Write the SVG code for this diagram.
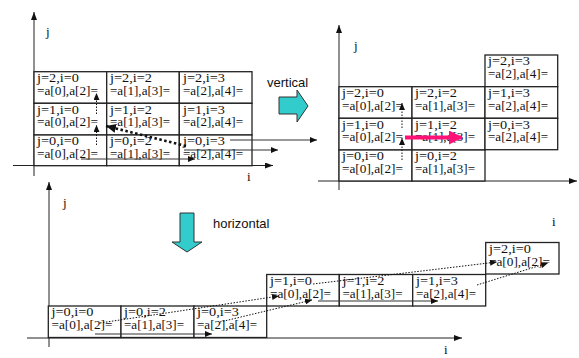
<svg xmlns="http://www.w3.org/2000/svg" width="579" height="358" viewBox="0 0 579 358">
<style>
.cell rect{fill:#fff;stroke:#222;stroke-width:1.3}
.cell text,.lbl{font-family:"Liberation Serif","Times New Roman",serif;font-size:11.5px;fill:#111}
.lbl{font-size:13px}
.axis{stroke:#222;stroke-width:1;fill:none}
.sol{stroke:#333;stroke-width:1;fill:none}
.dot{stroke:#111;stroke-width:1;stroke-dasharray:1.5,1.5;fill:none}
.thick{stroke:#111;stroke-width:2.6;stroke-dasharray:2.5,2.5;fill:none}
.pink{stroke:#ff1177;stroke-width:4;fill:none}
.sans{font-family:"Liberation Sans",Arial,sans-serif;font-size:13px;fill:#111}
.teal{fill:#33cccc;stroke:#333;stroke-width:1}
</style>
<defs>
<marker id="ah" viewBox="0 0 8 6" refX="8" refY="3" markerWidth="8" markerHeight="6" markerUnits="userSpaceOnUse" orient="auto"><path d="M0,0 L8,3 L0,6 z" fill="#111"/></marker>
<marker id="ahs" viewBox="0 0 7 6" refX="7" refY="3" markerWidth="7" markerHeight="6" markerUnits="userSpaceOnUse" orient="auto"><path d="M0,0 L7,3 L0,6 z" fill="#111"/></marker>
<marker id="ahb" viewBox="0 0 10 9" refX="10" refY="4.5" markerWidth="10" markerHeight="9" markerUnits="userSpaceOnUse" orient="auto"><path d="M0,0 L10,4.5 L0,9 z" fill="#111"/></marker>
<marker id="ahp" viewBox="0 0 14 14" refX="13" refY="7" markerWidth="14" markerHeight="14" markerUnits="userSpaceOnUse" orient="auto"><path d="M0,0 L14,7 L0,14 z" fill="#ff1177"/></marker>
</defs>

<!-- axes -->
<g id="axes">
<line class="axis" x1="34" y1="176" x2="34" y2="12" marker-end="url(#ah)"/>
<line class="axis" x1="13" y1="165.5" x2="273" y2="165.5" marker-end="url(#ah)"/>
<line class="axis" x1="339" y1="190" x2="339" y2="25" marker-end="url(#ah)"/>
<line class="axis" x1="318" y1="181" x2="577" y2="181" marker-end="url(#ah)"/>
<line class="axis" x1="49" y1="347" x2="49" y2="182" marker-end="url(#ah)"/>
<line class="axis" x1="27" y1="338" x2="462" y2="338" marker-end="url(#ah)"/>
<text class="lbl" x="46" y="36">j</text>
<text class="lbl" x="247" y="181">i</text>
<text class="lbl" x="354" y="50">j</text>
<text class="lbl" x="552" y="226">i</text>
<text class="lbl" x="63" y="207">j</text>
<text class="lbl" x="444" y="354">i</text>
</g>

<!-- top-left grid -->
<g id="tl-j2i0" class="cell"><rect x="34" y="71.7" width="72.7" height="31.6"/><text x="37" y="82" textLength="42" lengthAdjust="spacingAndGlyphs">j=2,i=0</text><text x="37" y="94.8" textLength="61" lengthAdjust="spacingAndGlyphs">=a[0],a[2]=</text></g>
<g id="tl-j2i2" class="cell"><rect x="106.7" y="71.7" width="72.6" height="31.6"/><text x="110" y="82" textLength="42" lengthAdjust="spacingAndGlyphs">j=2,i=2</text><text x="110" y="94.8" textLength="60" lengthAdjust="spacingAndGlyphs">=a[1],a[3]=</text></g>
<g id="tl-j2i3" class="cell"><rect x="179.3" y="71.7" width="72.7" height="31.6"/><text x="183" y="82" textLength="42" lengthAdjust="spacingAndGlyphs">j=2,i=3</text><text x="183" y="94.8" textLength="60" lengthAdjust="spacingAndGlyphs">=a[2],a[4]=</text></g>
<g id="tl-j1i0" class="cell"><rect x="34" y="103.3" width="72.7" height="31.7"/><text x="37" y="113.6" textLength="42" lengthAdjust="spacingAndGlyphs">j=1,i=0</text><text x="37" y="126.4" textLength="61" lengthAdjust="spacingAndGlyphs">=a[0],a[2]=</text></g>
<g id="tl-j1i2" class="cell"><rect x="106.7" y="103.3" width="72.6" height="31.7"/><text x="110" y="113.6" textLength="42" lengthAdjust="spacingAndGlyphs">j=1,i=2</text><text x="110" y="126.4" textLength="60" lengthAdjust="spacingAndGlyphs">=a[1],a[3]=</text></g>
<g id="tl-j1i3" class="cell"><rect x="179.3" y="103.3" width="72.7" height="31.7"/><text x="183" y="113.6" textLength="42" lengthAdjust="spacingAndGlyphs">j=1,i=3</text><text x="183" y="126.4" textLength="60" lengthAdjust="spacingAndGlyphs">=a[2],a[4]=</text></g>
<g id="tl-j0i0" class="cell"><rect x="34" y="135" width="72.7" height="30.7"/><text x="37" y="145.3" textLength="42" lengthAdjust="spacingAndGlyphs">j=0,i=0</text><text x="37" y="158.1" textLength="61" lengthAdjust="spacingAndGlyphs">=a[0],a[2]=</text></g>
<g id="tl-j0i2" class="cell"><rect x="106.7" y="135" width="72.6" height="30.7"/><text x="110" y="145.3" textLength="42" lengthAdjust="spacingAndGlyphs">j=0,i=2</text><text x="110" y="158.1" textLength="60" lengthAdjust="spacingAndGlyphs">=a[1],a[3]=</text></g>
<g id="tl-j0i3" class="cell"><rect x="179.3" y="135" width="72.7" height="30.7"/><text x="183" y="145.3" textLength="42" lengthAdjust="spacingAndGlyphs">j=0,i=3</text><text x="183" y="158.1" textLength="60" lengthAdjust="spacingAndGlyphs">=a[2],a[4]=</text></g>

<!-- top-right grid -->
<g id="tr-j2i0" class="cell"><rect x="339" y="86.7" width="73" height="31.6"/><text x="342" y="97" textLength="42" lengthAdjust="spacingAndGlyphs">j=2,i=0</text><text x="342" y="109.8" textLength="61" lengthAdjust="spacingAndGlyphs">=a[0],a[2]=</text></g>
<g id="tr-j2i2" class="cell"><rect x="412" y="86.7" width="73" height="31.6"/><text x="415" y="97" textLength="42" lengthAdjust="spacingAndGlyphs">j=2,i=2</text><text x="415" y="109.8" textLength="60" lengthAdjust="spacingAndGlyphs">=a[1],a[3]=</text></g>
<g id="tr-j2i3" class="cell"><rect x="485" y="55" width="72.7" height="31.7"/><text x="488" y="65.3" textLength="42" lengthAdjust="spacingAndGlyphs">j=2,i=3</text><text x="488" y="78.1" textLength="60" lengthAdjust="spacingAndGlyphs">=a[2],a[4]=</text></g>
<g id="tr-j1i0" class="cell"><rect x="339" y="118.3" width="73" height="31.7"/><text x="342" y="128.6" textLength="42" lengthAdjust="spacingAndGlyphs">j=1,i=0</text><text x="342" y="141.4" textLength="61" lengthAdjust="spacingAndGlyphs">=a[0],a[2]=</text></g>
<g id="tr-j1i2" class="cell"><rect x="412" y="118.3" width="73" height="31.7"/><text x="415" y="128.6" textLength="42" lengthAdjust="spacingAndGlyphs">j=1,i=2</text><text x="415" y="141.4" textLength="60" lengthAdjust="spacingAndGlyphs">=a[1],a[3]=</text></g>
<g id="tr-j1i3" class="cell"><rect x="485" y="86.7" width="72.7" height="31.6"/><text x="488" y="97" textLength="42" lengthAdjust="spacingAndGlyphs">j=1,i=3</text><text x="488" y="109.8" textLength="60" lengthAdjust="spacingAndGlyphs">=a[2],a[4]=</text></g>
<g id="tr-j0i0" class="cell"><rect x="339" y="150" width="73" height="31"/><text x="342" y="160.3" textLength="42" lengthAdjust="spacingAndGlyphs">j=0,i=0</text><text x="342" y="173.1" textLength="61" lengthAdjust="spacingAndGlyphs">=a[0],a[2]=</text></g>
<g id="tr-j0i2" class="cell"><rect x="412" y="150" width="73" height="31"/><text x="415" y="160.3" textLength="42" lengthAdjust="spacingAndGlyphs">j=0,i=2</text><text x="415" y="173.1" textLength="60" lengthAdjust="spacingAndGlyphs">=a[1],a[3]=</text></g>
<g id="tr-j0i3" class="cell"><rect x="485" y="118.3" width="72.7" height="31.4"/><text x="488" y="128.6" textLength="42" lengthAdjust="spacingAndGlyphs">j=0,i=3</text><text x="488" y="141.4" textLength="60" lengthAdjust="spacingAndGlyphs">=a[2],a[4]=</text></g>

<!-- bottom grid -->
<g id="b-j0i0" class="cell"><rect x="48.3" y="306" width="72.7" height="31.5"/><text x="51.5" y="316.3" textLength="42" lengthAdjust="spacingAndGlyphs">j=0,i=0</text><text x="51.5" y="329.1" textLength="61" lengthAdjust="spacingAndGlyphs">=a[0],a[2]=</text></g>
<g id="b-j0i2" class="cell"><rect x="121" y="306" width="73" height="31.5"/><text x="124" y="316.3" textLength="42" lengthAdjust="spacingAndGlyphs">j=0,i=2</text><text x="124" y="329.1" textLength="60" lengthAdjust="spacingAndGlyphs">=a[1],a[3]=</text></g>
<g id="b-j0i3" class="cell"><rect x="194" y="306" width="72.7" height="31.5"/><text x="197" y="316.3" textLength="42" lengthAdjust="spacingAndGlyphs">j=0,i=3</text><text x="197" y="329.1" textLength="60" lengthAdjust="spacingAndGlyphs">=a[2],a[4]=</text></g>
<g id="b-j1i0" class="cell"><rect x="266.7" y="274.5" width="72.6" height="31.5"/><text x="270" y="284.8" textLength="42" lengthAdjust="spacingAndGlyphs">j=1,i=0</text><text x="270" y="297.6" textLength="61" lengthAdjust="spacingAndGlyphs">=a[0],a[2]=</text></g>
<g id="b-j1i2" class="cell"><rect x="339.3" y="274.5" width="73.4" height="31.5"/><text x="342.5" y="284.8" textLength="42" lengthAdjust="spacingAndGlyphs">j=1,i=2</text><text x="342.5" y="297.6" textLength="60" lengthAdjust="spacingAndGlyphs">=a[1],a[3]=</text></g>
<g id="b-j1i3" class="cell"><rect x="412.7" y="274.5" width="73" height="31.5"/><text x="416" y="284.8" textLength="42" lengthAdjust="spacingAndGlyphs">j=1,i=3</text><text x="416" y="297.6" textLength="60" lengthAdjust="spacingAndGlyphs">=a[2],a[4]=</text></g>
<g id="b-j2i0" class="cell"><rect x="485.7" y="242.5" width="73.3" height="31.5"/><text x="489" y="252.8" textLength="42" lengthAdjust="spacingAndGlyphs">j=2,i=0</text><text x="489" y="265.6" textLength="61" lengthAdjust="spacingAndGlyphs">=a[0],a[2]=</text></g>

<!-- transformation arrows -->
<g id="vertical">
<polygon class="teal" points="279,97 297,97 297,90 308,106 297,122 297,114 279,114"/>
<text class="sans" x="267" y="87">vertical</text>
</g>
<g id="horizontal">
<polygon class="teal" points="180,213 194,213 194,242 202,242 187,252 172,242 180,242"/>
<text class="sans" x="213" y="228">horizontal</text>
</g>

<!-- connectors -->
<g id="connectors">
<line class="dot" x1="96.5" y1="145" x2="96.5" y2="125" marker-end="url(#ahs)"/>
<line class="dot" x1="96.5" y1="114" x2="96.5" y2="93" marker-end="url(#ahs)"/>
<line class="thick" x1="186" y1="146" x2="106" y2="126" marker-end="url(#ahb)"/>
<line class="sol" x1="81" y1="159" x2="195" y2="159" marker-end="url(#ahs)"/>
<line class="sol" x1="184" y1="150" x2="278" y2="150" marker-end="url(#ahs)"/>
<line class="sol" x1="230" y1="140" x2="317" y2="140" marker-end="url(#ahs)"/>

<line class="dot" x1="402" y1="160" x2="402" y2="138" marker-end="url(#ahs)"/>
<line class="dot" x1="402" y1="128" x2="402" y2="103" marker-end="url(#ahs)"/>
<line class="pink" x1="405" y1="137.5" x2="462" y2="137.5" marker-end="url(#ahp)"/>

<line class="sol" x1="95" y1="334" x2="212" y2="334" marker-end="url(#ahs)"/>
<line class="sol" x1="318" y1="301" x2="438" y2="301" marker-end="url(#ahs)"/>
<line class="dot" x1="100" y1="323" x2="279" y2="296" marker-end="url(#ahs)"/>
<line class="dot" x1="220" y1="322" x2="312" y2="300" marker-end="url(#ahs)"/>
<line class="dot" x1="313" y1="284" x2="497" y2="262" marker-end="url(#ahs)"/>
<line class="dot" x1="477" y1="285" x2="548" y2="263" marker-end="url(#ahs)"/>
</g>
</svg>
